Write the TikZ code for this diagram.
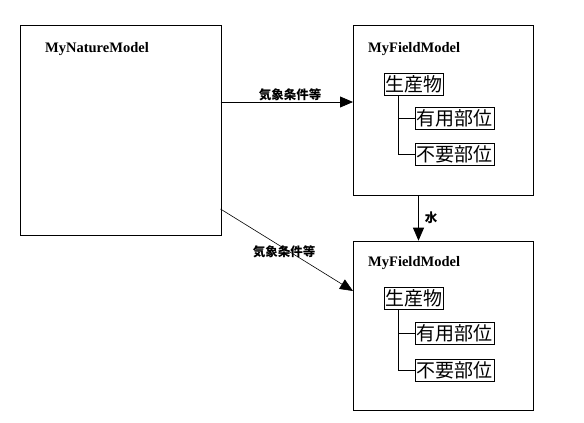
\documentclass[tikz,border=0pt]{standalone}
\usepackage{fontspec}
\setmainfont{Liberation Serif}
\newfontfamily\cjk{Noto Sans CJK JP}
\usetikzlibrary{arrows.meta}
\tikzset{
  bigbox/.style={draw, line width=0.9pt, anchor=north west, inner sep=0pt},
  title/.style={anchor=west, font=\fontsize{14.5}{15}\selectfont\bfseries, inner sep=0pt},
  part/.style={draw, line width=0.9pt, anchor=north west, inner sep=0pt, font=\cjk\fontsize{19}{19}\selectfont, minimum height=22pt},
  conn/.style={line width=0.8pt, -{Triangle[length=13pt,width=11pt]}},
  tree/.style={line width=0.9pt},
  lbl/.style={font=\cjk\bfseries\fontsize{12.5}{13}\selectfont, inner sep=0pt}
}
\begin{document}
\begin{tikzpicture}[x=1pt,y=1pt]
\useasboundingbox (0,0) rectangle (584,-423);
% boxes
\node[bigbox, minimum width=201pt, minimum height=210pt] (nature) at (19.5,-25.3) {};
\node[bigbox, minimum width=179.5pt, minimum height=170pt] (field1) at (353,-25.3) {};
\node[bigbox, minimum width=180pt, minimum height=169.5pt] (field2) at (353,-240.7) {};
\node[title] (tn) at (45,-49) {MyNatureModel};
\node[title] (tf1) at (368,-48.7) {MyFieldModel};
\node[title] (tf2) at (368,-262.7) {MyFieldModel};
% upper tree
\node[part, minimum width=59pt] (p1) at (384,-72.5) {生産物};
\node[part, minimum width=79pt] (u1) at (415,-107) {有用部位};
\node[part, minimum width=79pt] (f1) at (415,-142.5) {不要部位};
\coordinate (t1) at (398.7,-95);
\draw[tree] (t1) -- (t1 |- 0,-154.7) -- (f1.west |- 0,-154.7);
\draw[tree] (t1 |- u1.west) -- (u1.west);
% lower tree
\node[part, minimum width=59pt] (p2) at (384,-287) {生産物};
\node[part, minimum width=79pt] (u2) at (415,-322) {有用部位};
\node[part, minimum width=79pt] (f2) at (415,-358.5) {不要部位};
\coordinate (t2) at (398.7,-309);
\draw[tree] (t2) -- (t2 |- 0,-370) -- (f2.west |- 0,-370);
\draw[tree] (t2 |- u2.west) -- (u2.west);
% connectors
\coordinate (a1s) at (220.5,-102);
\draw[conn] (a1s) -- (field1.west |- a1s);
\node[lbl] (l1) at (290,-95) {気象条件等};
\coordinate (a2s) at (220.5,-209);
\coordinate (a2e) at (353,-291);
\draw[conn, line width=0.6pt] (a2s) -- (a2e);
\node[lbl] (l2) at (284,-252) {気象条件等};
\coordinate (a3s) at (418.5,-195.3);
\draw[conn] (a3s) -- (a3s |- field2.north);
\node[lbl] (l3) at (431,-217.5) {水};
\end{tikzpicture}
\end{document}
